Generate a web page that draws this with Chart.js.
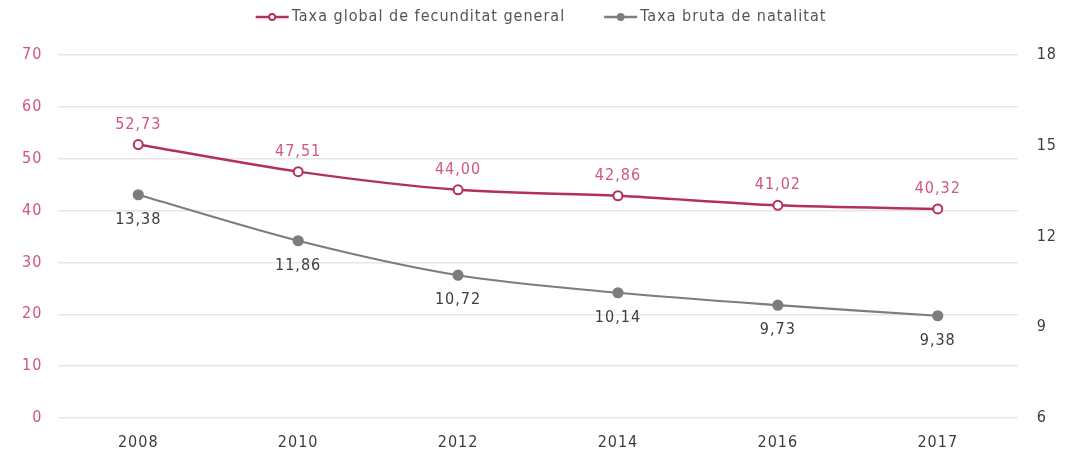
<!DOCTYPE html>
<html>
<head>
<meta charset="utf-8">
<script src="https://cdn.jsdelivr.net/npm/chart.js@4"></script>
<style>
  html, body { margin: 0; padding: 0; background: #fff; }
  #wrap { width: 1076px; height: 453px; }
</style>
</head>
<body>
<div id="wrap"><canvas id="natalitatChart"></canvas></div>
<script>
// Chart data
const years = ['2008', '2010', '2012', '2014', '2016', '2017'];
const fecunditat = [52.73, 47.51, 44.00, 42.86, 41.02, 40.32];
const natalitat = [13.38, 11.86, 10.72, 10.14, 9.73, 9.38];
const leftTicks = [0, 10, 20, 30, 40, 50, 60, 70];
const rightTicks = [6, 9, 12, 15, 18];

const pink = '#b3305c';
const pinkText = '#d2557f';
const grey = '#7d7d7d';
const darkText = '#3d3d3d';
const fontFamily = '"DejaVu Sans Condensed", "Liberation Sans Narrow", sans-serif';
const spacingPx = '1px';

// Slightly wider text, like the original
const spacing = {
  id: 'spacing',
  beforeUpdate(chart) { chart.ctx.letterSpacing = spacingPx; },
  beforeDraw(chart) { chart.ctx.letterSpacing = spacingPx; },
};

// Legend at the top: line + circle icon, then the dataset label
const topLegend = {
  id: 'topLegend',
  afterDraw(chart) {
    const ctx = chart.ctx;
    ctx.save();
    ctx.letterSpacing = spacingPx;
    ctx.font = '16px ' + fontFamily;
    ctx.textBaseline = 'middle';
    ctx.textAlign = 'left';
    const iconW = 33, textGap = 3, itemGap = 39, y = 17;
    const items = chart.data.datasets.map(ds => ({
      ds, w: iconW + textGap + ctx.measureText(ds.label).width
    }));
    const total = items.reduce((s, it) => s + it.w, 0) + itemGap * (items.length - 1);
    let x = chart.width / 2 - total / 2 + 3;
    items.forEach(it => {
      const ds = it.ds;
      ctx.strokeStyle = ds.borderColor;
      ctx.lineWidth = 2.5;
      ctx.beginPath(); ctx.moveTo(x, y); ctx.lineTo(x + iconW, y); ctx.stroke();
      ctx.beginPath(); ctx.arc(x + iconW / 2, y, 3, 0, Math.PI * 2);
      ctx.fillStyle = ds.pointBackgroundColor; ctx.fill();
      ctx.lineWidth = 1.8; ctx.stroke();
      ctx.fillStyle = '#555';
      ctx.fillText(ds.label, x + iconW + textGap, y);
      x += it.w + itemGap;
    });
    ctx.restore();
  }
};

// Draws value labels above (pink) or below (grey) each point
const valueLabels = {
  id: 'valueLabels',
  afterDatasetsDraw(chart) {
    const ctx = chart.ctx;
    ctx.save();
    ctx.letterSpacing = spacingPx;
    ctx.font = '16px ' + fontFamily;
    ctx.textAlign = 'center';
    chart.data.datasets.forEach((ds, i) => {
      const meta = chart.getDatasetMeta(i);
      meta.data.forEach((pt, j) => {
        const txt = ds.data[j].toFixed(2).replace('.', ',');
        ctx.fillStyle = ds.labelColor;
        if (ds.labelPos === 'above') {
          ctx.textBaseline = 'bottom';
          ctx.fillText(txt, pt.x, pt.y - 12);
        } else {
          ctx.textBaseline = 'top';
          ctx.fillText(txt, pt.x, pt.y + 17);
        }
      });
    });
    ctx.restore();
  }
};

const ctx = document.getElementById('natalitatChart').getContext('2d');
const natalitatChart = new Chart(ctx, {
  type: 'line',
  data: {
    labels: years,
    datasets: [
      {
        label: 'Taxa global de fecunditat general',
        data: fecunditat,
        yAxisID: 'y',
        borderColor: pink,
        backgroundColor: '#fff',
        borderWidth: 2.5,
        pointRadius: 4.5,
        pointBorderWidth: 2,
        pointBackgroundColor: '#fff',
        pointBorderColor: pink,
        tension: 0.3,
        labelColor: pinkText,
        labelPos: 'above',
      },
      {
        label: 'Taxa bruta de natalitat',
        data: natalitat,
        yAxisID: 'y1',
        borderColor: grey,
        backgroundColor: grey,
        borderWidth: 2.2,
        pointRadius: 4.5,
        pointBackgroundColor: grey,
        pointBorderColor: grey,
        tension: 0.3,
        labelColor: darkText,
        labelPos: 'below',
      },
    ],
  },
  options: {
    responsive: true,
    maintainAspectRatio: false,
    animation: false,
    layout: { padding: { top: 55, left: 6, right: 0, bottom: 0 } },
    plugins: {
      tooltip: { enabled: false },
      legend: { display: false },
    },
    scales: {
      x: {
        offset: true,
        grid: { display: false, drawTicks: false },
        border: { display: false },
        ticks: { color: darkText, font: { family: fontFamily, size: 16 }, padding: 15 },
        afterFit(axis) { axis.height = 35; },
      },
      y: {
        position: 'left',
        min: 0,
        max: 70,
        afterBuildTicks(axis) { axis.ticks = leftTicks.map(v => ({ value: v })); },
        grid: { color: '#e6e6e6', lineWidth: 1.5, drawTicks: false },
        border: { display: false },
        ticks: { color: pinkText, font: { family: fontFamily, size: 16 }, padding: 16 },
      },
      y1: {
        position: 'right',
        min: 6,
        max: 18,
        afterBuildTicks(axis) { axis.ticks = rightTicks.map(v => ({ value: v })); },
        grid: { drawOnChartArea: false, drawTicks: false },
        border: { display: false },
        ticks: { color: darkText, font: { family: fontFamily, size: 16 }, padding: 19 },
      },
    },
  },
  plugins: [spacing, valueLabels, topLegend],
});
</script>
</body>
</html>
